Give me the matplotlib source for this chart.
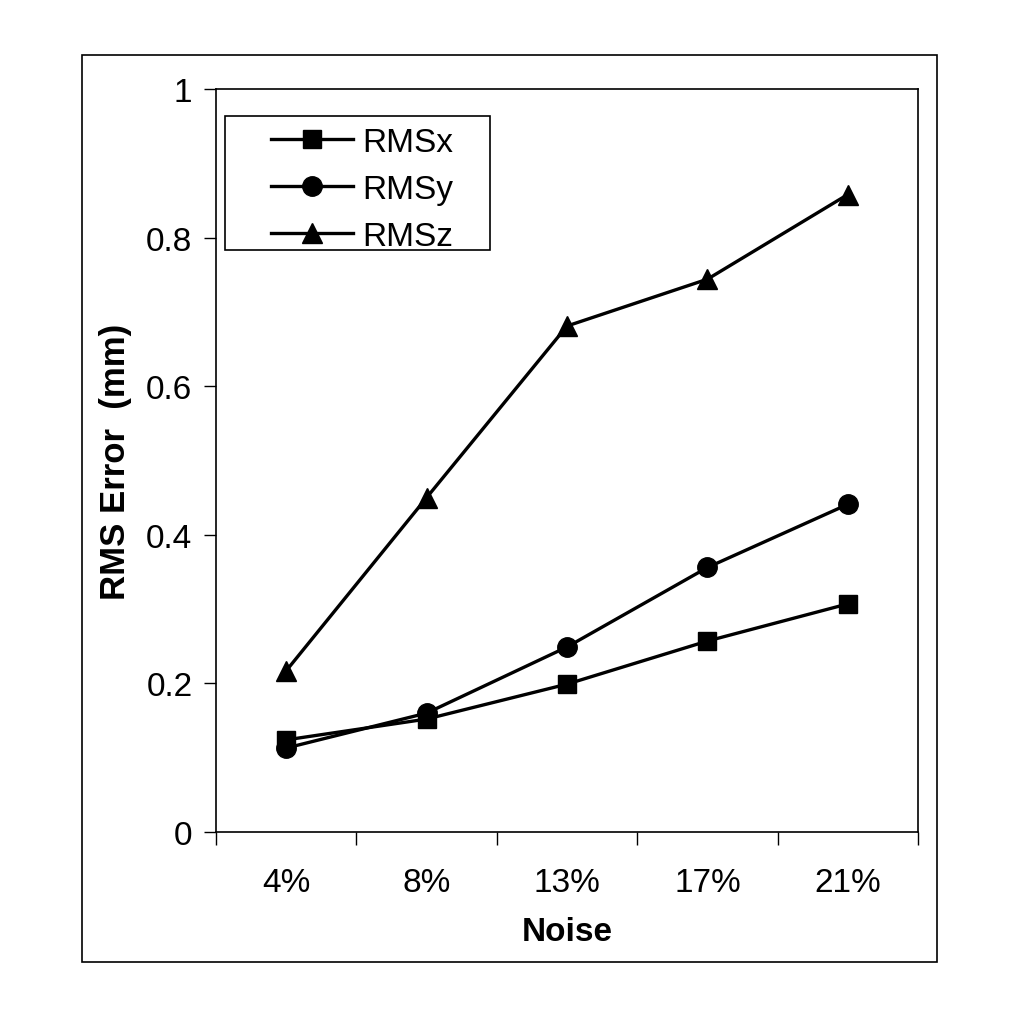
import matplotlib
matplotlib.use('Agg')
import matplotlib.pyplot as plt
from matplotlib.patches import Rectangle
import numpy as np

plt.rcParams['font.family'] = ['Liberation Sans', 'DejaVu Sans']

# data
noise = ['4%', '8%', '13%', '17%', '21%']
rms_x = [0.124, 0.152, 0.199, 0.257, 0.307]
rms_y = [0.113, 0.160, 0.249, 0.356, 0.441]
rms_z = [0.217, 0.450, 0.681, 0.744, 0.858]
y_ticks = [0, 0.2, 0.4, 0.6, 0.8, 1]
y_labels = ['0', '0.2', '0.4', '0.6', '0.8', '1']

W = 1020.0
fig = plt.figure(figsize=(10.2, 10.2), dpi=100)
ax = fig.add_axes([216/W, 1 - 833/W, (918-216)/W, (833-90)/W])

# outer chart frame
fig.patches.append(Rectangle((82/W, 1 - 963/W), (937-82)/W, (963-56)/W,
                             transform=fig.transFigure, fill=False, lw=1.2, ec='black'))
# legend frame
fig.patches.append(Rectangle((225/W, 1 - 251/W), (490-225)/W, (251-117)/W,
                             transform=fig.transFigure, fill=True, fc='white',
                             lw=1.2, ec='black', zorder=3))

x = np.arange(len(noise))
ax.plot(x, rms_x, '-s', color='black', lw=2.4, ms=13, label='RMSx')
ax.plot(x, rms_y, '-o', color='black', lw=2.4, ms=14, label='RMSy')
ax.plot(x, rms_z, '-^', color='black', lw=2.4, ms=15, label='RMSz')

ax.set_xlim(-0.5, len(noise) - 0.5)
ax.set_ylim(0, 1)
ax.set_yticks(y_ticks)
ax.set_yticklabels(y_labels)
ax.set_xticks(x)
ax.set_xticklabels(noise)
ax.set_xticks(np.arange(len(noise) + 1) - 0.5, minor=True)
ax.tick_params(axis='x', which='major', length=0, pad=25, labelsize=24)
ax.tick_params(axis='x', which='minor', length=9, width=1, direction='out')
ax.tick_params(axis='y', length=9, width=1, direction='out', labelsize=24, pad=8)
for s in ax.spines.values():
    s.set_linewidth(1.2)

ax.set_xlabel('Noise', fontsize=24, fontweight='bold', labelpad=13)
ax.set_ylabel('RMS Error  (mm)', fontsize=25, fontweight='bold', labelpad=10)

leg = fig.legend(*ax.get_legend_handles_labels(), loc='upper left',
                 bbox_to_anchor=(271/W, 1 - 128/W), fontsize=24, frameon=False,
                 handlelength=2.45, handletextpad=0.3, labelspacing=0.48,
                 borderpad=0, borderaxespad=0)
leg.set_zorder(4)

plt.savefig('out.png', dpi=100)
